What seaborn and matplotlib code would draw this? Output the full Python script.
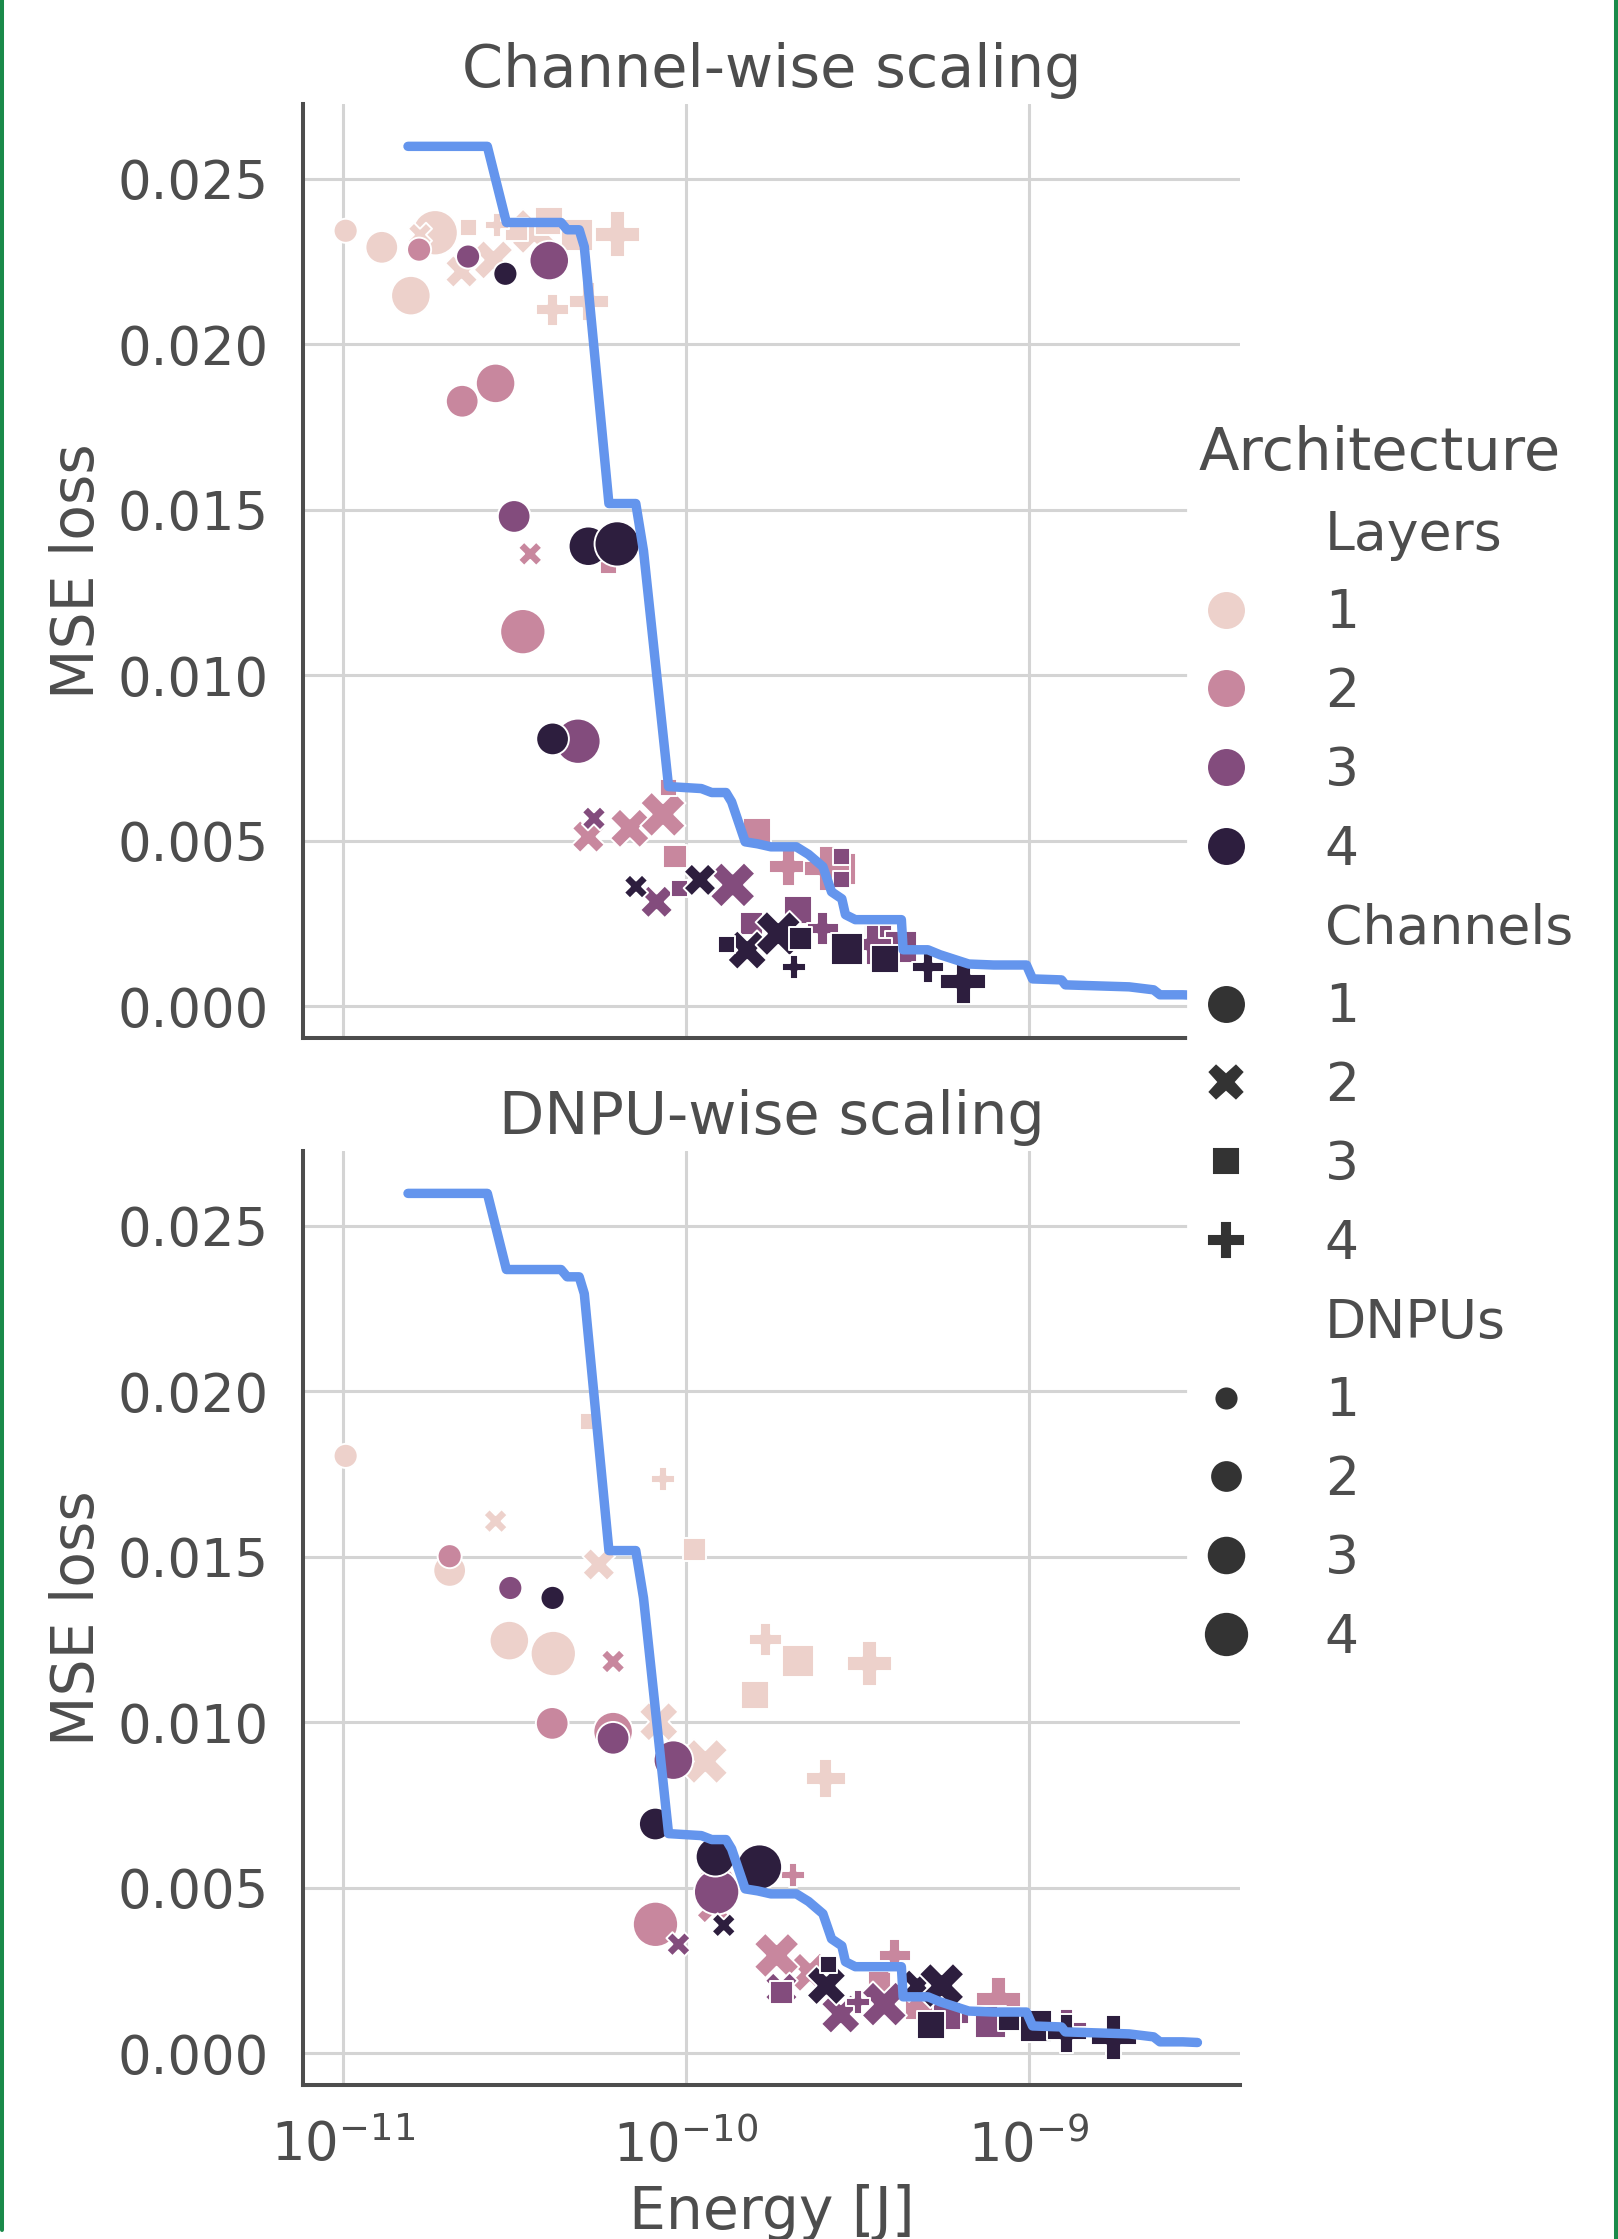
import matplotlib
matplotlib.use("Agg")
import matplotlib.pyplot as plt
from matplotlib.lines import Line2D
import seaborn as sns
import pandas as pd

# Channel-wise scaling (top panel)
top_layers = [1, 1, 1, 1, 1, 1, 1, 1, 1, 1, 1, 1, 1, 1, 1, 1,
              2, 2, 2, 2, 2, 2, 2, 2, 2, 2, 2, 2, 2, 2, 2,
              3, 3, 3, 3, 3, 3, 3, 3, 3, 3, 3, 3, 3, 3, 3, 3,
              4, 4, 4, 4, 4, 4, 4, 4, 4, 4, 4, 4, 4, 4, 4]
top_channels = [1, 1, 1, 1, 2, 2, 2, 2, 3, 3, 3, 3, 4, 4, 4, 4,
                1, 1, 1, 1, 2, 2, 2, 2, 3, 3, 3, 3, 3, 4, 4,
                1, 1, 1, 1, 2, 2, 2, 3, 3, 3, 3, 3, 3, 3, 4, 4,
                1, 1, 1, 1, 2, 2, 2, 2, 3, 3, 3, 3, 4, 4, 4]
top_dnpus = [1, 2, 3, 4, 1, 2, 3, 4, 1, 2, 3, 4, 1, 2, 3, 4,
             1, 2, 3, 4, 1, 2, 3, 4, 1, 1, 2, 3, 4, 3, 4,
             1, 2, 3, 4, 1, 2, 4, 1, 1, 1, 2, 3, 3, 4, 2, 3,
             1, 2, 3, 4, 1, 2, 3, 4, 1, 2, 3, 4, 1, 2, 4]
top_energy = [1.02e-11, 1.30e-11, 1.58e-11, 1.86e-11, 1.68e-11, 2.22e-11, 2.75e-11, 3.62e-11,
              2.32e-11, 3.21e-11, 4.00e-11, 4.83e-11, 2.82e-11, 4.09e-11, 5.22e-11, 6.31e-11,
              1.67e-11, 2.23e-11, 2.79e-11, 3.35e-11, 3.52e-11, 5.20e-11, 6.87e-11, 8.58e-11,
              5.94e-11, 8.90e-11, 9.30e-11, 1.61e-10, 2.81e-10, 1.99e-10, 2.58e-10,
              2.32e-11, 3.16e-11, 4.00e-11, 4.85e-11, 5.40e-11, 8.22e-11, 1.37e-10, 9.57e-11,
              2.85e-10, 2.85e-10, 1.55e-10, 2.13e-10, 3.64e-10, 4.25e-10, 2.51e-10, 3.50e-10,
              2.98e-11, 4.09e-11, 5.20e-11, 6.31e-11, 7.16e-11, 1.10e-10, 1.51e-10, 1.86e-10,
              1.31e-10, 2.16e-10, 3.80e-10, 2.96e-10, 2.07e-10, 5.08e-10, 6.43e-10]
top_loss = [0.02343, 0.02293, 0.02147, 0.02337, 0.02331, 0.02220, 0.02255, 0.02341,
            0.02353, 0.02346, 0.02372, 0.02331, 0.02359, 0.02104, 0.02129, 0.02333,
            0.02286, 0.01828, 0.01882, 0.01132, 0.01367, 0.00513, 0.00538, 0.00580,
            0.01331, 0.00660, 0.00452, 0.00528, 0.00416, 0.00422, 0.00416,
            0.02265, 0.01480, 0.02253, 0.00801, 0.00568, 0.00316, 0.00367, 0.00356,
            0.00452, 0.00383, 0.00250, 0.00291, 0.00205, 0.00180, 0.00235, 0.00186,
            0.02213, 0.00808, 0.01390, 0.01397, 0.00362, 0.00382, 0.00170, 0.00220,
            0.00186, 0.00205, 0.00144, 0.00174, 0.00119, 0.00119, 0.00074]

# DNPU-wise scaling (bottom panel)
bottom_layers = [1, 1, 1, 1, 1, 1, 1, 1, 1, 1, 1, 1, 1, 1, 1, 1,
                 2, 2, 2, 2, 2, 2, 2, 2, 2, 2, 2, 2, 2, 2,
                 3, 3, 3, 3, 3, 3, 3, 3, 3, 3, 3, 3, 3, 3,
                 4, 4, 4, 4, 4, 4, 4, 4, 4, 4, 4, 4, 4, 4]
bottom_channels = [1, 1, 1, 1, 2, 2, 2, 2, 3, 3, 3, 3, 4, 4, 4, 4,
                   1, 1, 1, 1, 1, 2, 2, 2, 2, 3, 3, 4, 4, 4,
                   1, 1, 1, 1, 2, 2, 2, 2, 3, 3, 3, 3, 4, 4,
                   1, 1, 1, 1, 2, 2, 2, 2, 3, 3, 3, 3, 4, 4]
bottom_dnpus = [1, 2, 3, 4, 1, 2, 3, 4, 1, 2, 3, 4, 1, 2, 3, 4,
                1, 2, 3, 3, 4, 1, 2, 3, 4, 2, 4, 1, 2, 4,
                1, 2, 3, 4, 1, 2, 3, 4, 1, 2, 3, 4, 1, 3,
                1, 2, 3, 4, 1, 2, 3, 4, 1, 2, 3, 4, 3, 4]
bottom_energy = [1.02e-11, 2.05e-11, 3.06e-11, 4.11e-11, 2.79e-11, 5.58e-11, 8.34e-11, 1.14e-10,
                 5.20e-11, 1.06e-10, 1.59e-10, 2.12e-10, 8.58e-11, 1.71e-10, 2.56e-10, 3.43e-10,
                 2.05e-11, 4.08e-11, 6.14e-11, 1.23e-10, 8.16e-11, 6.14e-11, 1.20e-10, 2.30e-10,
                 1.84e-10, 3.66e-10, 4.85e-10, 2.05e-10, 4.07e-10, 8.15e-10,
                 3.08e-11, 6.14e-11, 9.20e-11, 1.23e-10, 9.52e-11, 1.90e-10, 2.83e-10, 3.79e-10,
                 6.30e-10, 1.90e-10, 5.77e-10, 7.73e-10, 3.18e-10, 1.29e-09,
                 4.09e-11, 8.15e-11, 1.22e-10, 1.64e-10, 1.29e-10, 4.73e-10, 2.57e-10, 5.57e-10,
                 2.61e-10, 8.80e-10, 5.19e-10, 1.05e-09, 1.29e-09, 1.77e-09]
bottom_loss = [0.01805, 0.01459, 0.01247, 0.01208, 0.01608, 0.01477, 0.01002, 0.00882,
               0.01909, 0.01523, 0.01083, 0.01184, 0.01734, 0.01250, 0.00831, 0.01179,
               0.01502, 0.00997, 0.00972, 0.00510, 0.00390, 0.01184, 0.00442, 0.00245,
               0.00296, 0.00215, 0.00150, 0.00538, 0.00296, 0.00164,
               0.01406, 0.00952, 0.00886, 0.00488, 0.00330, 0.00195, 0.00119, 0.00149,
               0.00114, 0.00183, 0.00114, 0.00094, 0.00154, 0.00074,
               0.01376, 0.00693, 0.00594, 0.00563, 0.00387, 0.00205, 0.00205, 0.00205,
               0.00270, 0.00104, 0.00085, 0.00084, 0.00060, 0.00048]

# pareto front (same line in both panels)
front_energy = [1.55e-11, 2.64e-11, 3.00e-11, 4.33e-11, 4.51e-11, 4.89e-11, 5.06e-11, 5.97e-11,
                7.15e-11, 7.53e-11, 8.91e-11, 1.11e-10, 1.19e-10, 1.31e-10, 1.36e-10, 1.49e-10,
                1.62e-10, 1.77e-10, 2.10e-10, 2.28e-10, 2.51e-10, 2.66e-10, 2.85e-10, 2.92e-10,
                3.12e-10, 4.25e-10, 4.30e-10, 5.08e-10, 5.51e-10, 6.68e-10, 7.89e-10, 9.84e-10,
                1.025e-09, 1.245e-09, 1.277e-09, 1.96e-09, 2.31e-09, 2.41e-09, 2.81e-09, 3.10e-09]
front_loss = [0.02598, 0.02598, 0.02368, 0.02368, 0.02346, 0.02346, 0.02295, 0.01519,
              0.01519, 0.01376, 0.00664, 0.00658, 0.00646, 0.00646, 0.00618, 0.00497,
              0.00491, 0.00482, 0.00482, 0.00459, 0.00422, 0.00346, 0.00325, 0.00277,
              0.00262, 0.00262, 0.00171, 0.00171, 0.00156, 0.00128, 0.00125, 0.00125,
              0.00083, 0.00080, 0.00065, 0.00059, 0.00050, 0.00035, 0.00035, 0.00033]

TXT = "#4d4d4d"
sns.set_theme(style="whitegrid")
plt.rcParams.update({
    "font.family": ["DejaVu Sans"],
    "text.color": TXT, "axes.labelcolor": TXT,
    "xtick.color": TXT, "ytick.color": TXT,
    "axes.edgecolor": TXT, "axes.linewidth": 1.45,
    "grid.color": "#d4d4d4", "grid.linewidth": 1.1,
    "xtick.labelsize": 19, "ytick.labelsize": 19,
    "axes.labelsize": 21, "axes.titlesize": 21.2,
    "legend.fontsize": 19.3, "legend.title_fontsize": 21.3,
    "lines.linewidth": 2.6, "lines.markersize": 12,
    "xtick.major.size": 0, "ytick.major.size": 0,
    "xtick.minor.size": 0, "ytick.minor.size": 0,
    "xtick.major.pad": 12.5, "ytick.major.pad": 12.5,
})

top = pd.DataFrame({"Energy": top_energy, "MSE": top_loss, "Layers": top_layers,
                    "Channels": top_channels, "DNPUs": top_dnpus})
bottom = pd.DataFrame({"Energy": bottom_energy, "MSE": bottom_loss, "Layers": bottom_layers,
                       "Channels": bottom_channels, "DNPUs": bottom_dnpus})

fig, axes = plt.subplots(2, 1, figsize=(8.09, 11.195), dpi=200, sharex=True, sharey=True)
fig.subplots_adjust(left=0.1873, right=0.7664, top=0.9536, bottom=0.0688, hspace=0.121)

panels = [(top, "Channel-wise scaling"), (bottom, "DNPU-wise scaling")]
for i, (ax, (df, title)) in enumerate(zip(axes, panels)):
    sns.scatterplot(data=df, x="Energy", y="MSE", hue="Layers", style="Channels",
                    size="DNPUs", sizes=(75, 265), legend="full" if i == 0 else False, ax=ax)
    sns.lineplot(x=front_energy, y=front_loss, sort=False, estimator=None,
                 color="cornflowerblue", ax=ax)
    front = ax.lines[-1]
    front.set_linewidth(3.4)
    front.set_solid_capstyle("round")
    front.set_solid_joinstyle("round")
    ax.set_xscale("log")
    ax.set_title(title)
    ax.set_ylabel("MSE loss")
    ax.set_xlabel("")
axes[1].set_xlabel("Energy [J]")
sns.despine(fig=fig)

# regroup legend entries: Layers, Channels, DNPUs
leg = axes[0].get_legend()
handles = list(leg.legend_handles)
labels = [t.get_text() for t in leg.get_texts()]
leg.remove()
groups = {}
cur = None
for h, l in zip(handles, labels):
    if l in ("Layers", "Channels", "DNPUs"):
        cur = l
        groups[cur] = []
    groups[cur].append((h, l))
for key in ("Layers", "Channels"):
    for h, l in groups[key][1:]:
        h.set_markersize(14)
ordered = groups["Layers"] + groups["Channels"] + groups["DNPUs"]
fig.legend([h for h, _ in ordered], [l for _, l in ordered], title="Architecture",
           loc="upper left", bbox_to_anchor=(1188 / 1618, 1 - 414 / 2239), borderaxespad=0,
           frameon=True, facecolor="white", edgecolor="white", framealpha=1, fancybox=False,
           handlelength=1.0, handletextpad=1.35, borderpad=0.2, labelspacing=0.5,
           alignment="left")

# green frame on the sides
fig.add_artist(Line2D([1.5 / 1618, 1.5 / 1618], [9 / 2239, 1], transform=fig.transFigure,
                      color="#1a8a4a", lw=1.45))
fig.add_artist(Line2D([1616 / 1618, 1616 / 1618], [0, 1], transform=fig.transFigure,
                      color="#1a8a4a", lw=1.45))

fig.savefig("out.png", dpi=200)
